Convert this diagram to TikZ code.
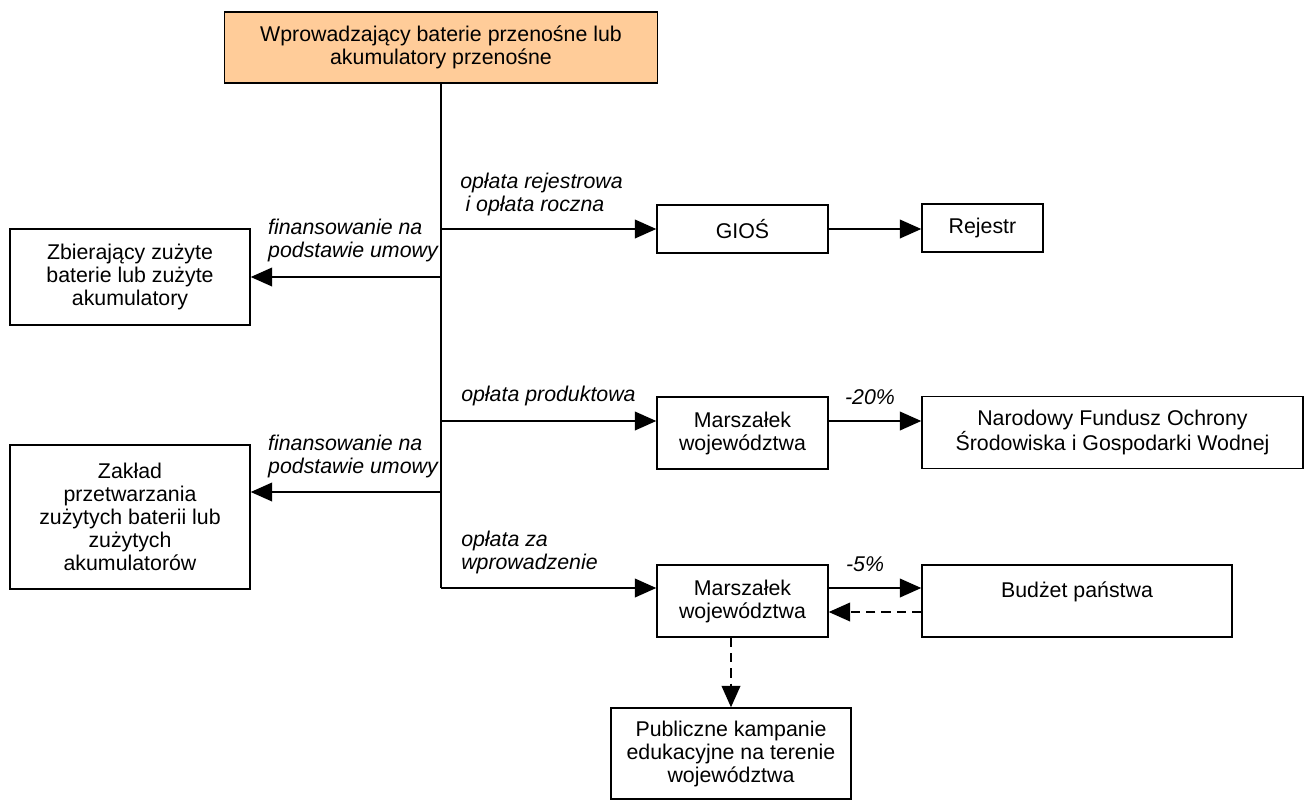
\documentclass[tikz,border=0pt]{standalone}
\usepackage{fontspec}
\setmainfont{Liberation Sans}
\usetikzlibrary{arrows.meta}
\definecolor{topfill}{RGB}{255,204,153}
\begin{document}
\begin{tikzpicture}
  [x=0.75pt,y=-0.75pt,
   every node/.style={font=\fontsize{16}{17.25}\selectfont},
   box/.style={draw,line width=1.1pt,align=center,inner sep=2pt},
   lbl/.style={font=\fontsize{16}{17.25}\selectfont\itshape,align=left,inner sep=0pt},
   arr/.style={-{Triangle[length=16pt,width=14pt]},line width=1.1pt},
   darr/.style={arr,dash pattern=on 7pt off 4.5pt}]
  \useasboundingbox (0,0) rectangle (1304,800);

  \node[box,fill=topfill,minimum width=324.75pt,minimum height=53.25pt] (top) at (441,47.5)
    {Wprowadzający baterie przenośne lub\\akumulatory przenośne};
  \node[box,minimum width=180pt,minimum height=72pt] (zbier) at (130,277)
    {Zbierający zużyte\\baterie lub zużyte\\akumulatory};
  \node[box,minimum width=180pt,minimum height=108pt] (zaklad) at (130,517)
    {Zakład\\przetwarzania\\zużytych baterii lub\\zużytych\\akumulatorów};
  \node[box,minimum width=128.25pt,minimum height=36pt] (gios) at (742.5,229) {GIOŚ};
  \node[box,minimum width=90.75pt,minimum height=36pt] (rejestr) at (982.5,228) {Rejestr};
  \node[box,minimum width=128.25pt,minimum height=54pt] (marsz1) at (742.5,433)
    {Marszałek\\województwa};
  \node[box,minimum width=285.75pt,minimum height=54pt] (nfos) at (1112.5,432.5)
    {Narodowy Fundusz Ochrony\\Środowiska i Gospodarki Wodnej};
  \node[box,minimum width=128.25pt,minimum height=54pt] (marsz2) at (742.5,601)
    {Marszałek\\województwa};
  \node[box,minimum width=232.5pt,minimum height=54pt] (budzet) at (1077,601)
    {Budżet państwa\\~};
  \node[box,minimum width=180pt,minimum height=68.25pt] (pub) at (731,753.5)
    {Publiczne kampanie\\edukacyjne na terenie\\województwa};

  \coordinate (b1) at (441,229);
  \coordinate (b2) at (441,277);
  \coordinate (b3) at (441,421);
  \coordinate (b4) at (441,492);
  \coordinate (b5) at (441,588);
  \coordinate (d1) at (0,612);

  \draw[line width=1.1pt] (top.south) -- (b5);
  \draw[arr] (b1) -- (gios.west);
  \draw[arr] (gios.east) -- (gios.east -| rejestr.west);
  \draw[arr] (b2) -- (zbier.east);
  \draw[arr] (b4) -- (b4 -| zaklad.east);
  \foreach \from/\to in {b3/marsz1,b5/marsz2}
    \draw[arr] (\from) -- (\from -| \to.west);
  \draw[arr] (b3 -| marsz1.east) -- (b3 -| nfos.west);
  \draw[arr] (b5 -| marsz2.east) -- (b5 -| budzet.west);
  \draw[darr] (d1 -| budzet.west) -- (d1 -| marsz2.east);
  \draw[darr] (marsz2.south -| pub.north) -- (pub.north);

  \node[lbl,anchor=west] (l1) at (460,194) {opłata rejestrowa\\\hspace{4pt}i opłata roczna};
  \node[lbl,anchor=east] (l2) at (438,240) {finansowanie na\\podstawie umowy};
  \node[lbl,anchor=east] (l3) at (438,456) {finansowanie na\\podstawie umowy};
  \node[lbl,anchor=west] (l4) at (461,396) {opłata produktowa};
  \node[lbl] (l5) at (870,397) {-20\%};
  \node[lbl,anchor=west] (l6) at (461,552) {opłata za\\wprowadzenie};
  \node[lbl] (l7) at (865,564) {-5\%};
\end{tikzpicture}
\end{document}
